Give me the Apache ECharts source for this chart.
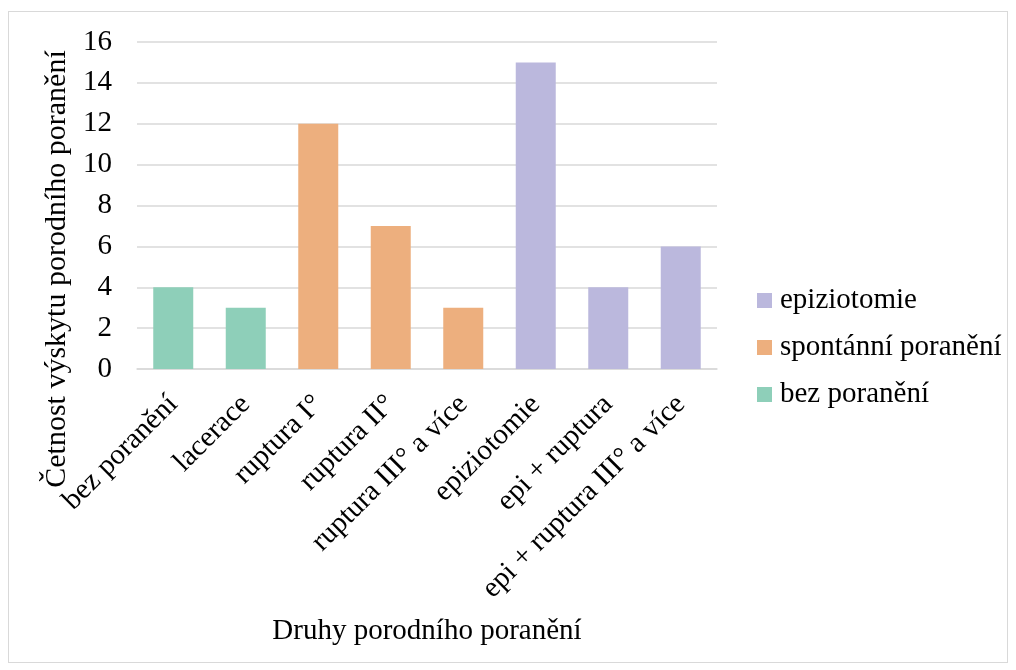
<!DOCTYPE html>
<html>
<head>
<meta charset="utf-8">
<script src="https://cdn.jsdelivr.net/npm/echarts@6/dist/echarts.min.js"></script>
<style>
  html, body { margin: 0; padding: 0; background: #fff; }
  #frame { position: absolute; left: 8px; top: 11px; width: 1000px; height: 652px; border: 1px solid #d9d9d9; box-sizing: border-box; }
  #chart { width: 1016px; height: 670px; }
</style>
</head>
<body>
<div id="frame"></div>
<div id="chart"></div>
<script>
const categories = ['bez poranění', 'lacerace', 'ruptura I°', 'ruptura II°', 'ruptura III° a více', 'epiziotomie', 'epi + ruptura', 'epi + ruptura III° a více'];
const bezPoraneni = [4, 3, null, null, null, null, null, null];
const spontanniPoraneni = [null, null, 12, 7, 3, null, null, null];
const epiziotomie = [null, null, null, null, null, 15, 4, 6];
const yTicks = { min: 0, max: 16, interval: 2 };
const yTitle = 'Četnost výskytu porodního poranění';
const xTitle = 'Druhy porodního poranění';

const font = 'Liberation Serif, Times New Roman, serif';
const fontSize = 29;
const chart = echarts.init(document.getElementById('chart'), null, { renderer: 'canvas' });

function bar(name, data, color) {
  return {
    name: name,
    type: 'bar',
    stack: 'total',
    data: data,
    barWidth: 40,
    itemStyle: { color: color }
  };
}

chart.setOption({
  animation: false,
  textStyle: { fontFamily: font },
  grid: { left: 137, right: 299, top: 42, bottom: 301, containLabel: false, outerBoundsMode: 'none' },
  graphic: [{
    type: 'text',
    x: 57,
    y: 269,
    rotation: Math.PI / 2,
    style: {
      text: yTitle,
      fontFamily: font,
      fontSize: 30,
      fill: '#000',
      textAlign: 'center',
      textVerticalAlign: 'middle'
    }
  }],
  legend: {
    orient: 'vertical',
    left: 757,
    top: 286,
    padding: 0,
    itemWidth: 15,
    itemHeight: 15,
    itemGap: 18,
    icon: 'rect',
    data: ['epiziotomie', 'spontánní poranění', 'bez poranění'],
    textStyle: { fontFamily: font, fontSize: fontSize, color: '#000', padding: [0, 0, 0, 3] }
  },
  xAxis: {
    type: 'category',
    data: categories,
    name: xTitle,
    nameLocation: 'middle',
    nameGap: 248,
    nameTextStyle: { fontFamily: font, fontSize: fontSize, color: '#000' },
    axisLine: { lineStyle: { color: '#d9d9d9', width: 1.5 } },
    axisTick: { show: false },
    axisLabel: {
      rotate: 45,
      interval: 0,
      margin: 31,
      align: 'right',
      verticalAlign: 'middle',
      fontFamily: font,
      fontSize: fontSize,
      color: '#000'
    }
  },
  yAxis: {
    type: 'value',
    min: yTicks.min,
    max: yTicks.max,
    interval: yTicks.interval,
    axisLine: { show: false },
    axisTick: { show: false },
    axisLabel: { margin: 25, fontFamily: font, fontSize: fontSize, color: '#000' },
    splitLine: { lineStyle: { color: '#d9d9d9', width: 1.5 } }
  },
  series: [
    bar('bez poranění', bezPoraneni, '#8ecfb9'),
    bar('spontánní poranění', spontanniPoraneni, '#edaf7e'),
    bar('epiziotomie', epiziotomie, '#bbb8dd')
  ]
});
</script>
</body>
</html>
